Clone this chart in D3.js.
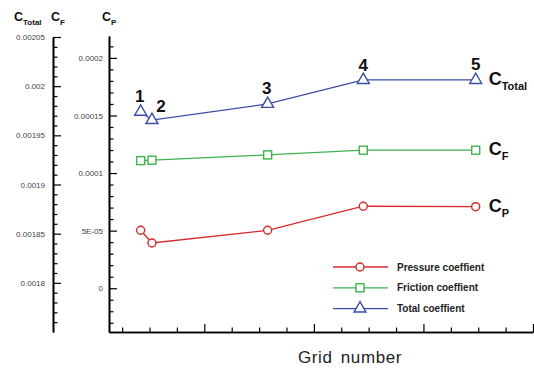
<!doctype html>
<html lang="en">
<head>
<meta charset="UTF-8" />
<title>Drag coefficients vs grid number</title>
<script src="https://d3js.org/d3.v7.min.js"></script>
<style>
  html,body{margin:0;padding:0;background:#fff;}
  svg{display:block;font-family:"Liberation Sans",Arial,Helvetica,sans-serif;}
  .tick text{fill:#444;}
</style>
</head>
<body>
<div id="chart"></div>
<script>
/* ---------- data ---------- */
const gridIds   = ["1","2","3","4","5"];
const gridX     = [0.419, 0.522, 1.578, 2.451, 3.477];
const cTotal    = [0.0019740, 0.0019655, 0.0019819, 0.0020063, 0.0020063];
const cF        = [0.0019243, 0.0019247, 0.0019301, 0.0019349, 0.0019349];
const cP        = [0.0000503, 0.0000393, 0.0000503, 0.0000712, 0.0000708];

const leftTicks       = [0.0018, 0.00185, 0.0019, 0.00195, 0.002, 0.00205];
const leftTickLabels  = ["0.0018","0.00185","0.0019","0.00195","0.002","0.00205"];
const rightTicks      = [0, 0.00005, 0.0001, 0.00015, 0.0002];
const rightTickLabels = ["0","5E-05","0.0001","0.00015","0.0002"];
const xMajorTicks     = [1, 2, 3, 4];

const legendNames = ["Pressure coeffient","Friction coeffient","Total coeffient"];

/* ---------- geometry ---------- */
const W=534, H=369;
const leftAxisX=53, rightAxisX=109, xAxisY=332, plotRight=533;

const svg=d3.select('#chart').append('svg').attr('width',W).attr('height',H);

const x  = d3.scaleLinear().domain([0.13,4.0]).range([rightAxisX,plotRight]);
const yL = d3.scaleLinear().domain([0.00175,0.00205]).range([xAxisY,37]);
const yR = d3.scaleLinear().domain([-0.0000380,0.000219]).range([xAxisY,36]);

const RED='#d42a2a', GREEN='#3cb44b', BLUE='#3b4ea6';

function styleAxis(g){
  g.selectAll('path,line').attr('stroke','#000');
  g.select('.domain').attr('stroke-width',1.6);
  g.selectAll('.tick line').attr('stroke-width',1.2);
  g.selectAll('text').style('font-size','8px').attr('fill','#444');
}

/* left axis: C_Total and C_F */
const leftMinor=d3.range(176,205).map(v=>v/100000).filter(v=>!leftTicks.some(t=>Math.abs(t-v)<1e-9));
const gLm=svg.append('g').attr('transform',`translate(${leftAxisX},0)`)
  .call(d3.axisLeft(yL).tickValues(leftMinor).tickSize(-4.5).tickSizeOuter(0).tickFormat(''));
styleAxis(gLm);
const gL=svg.append('g').attr('transform',`translate(${leftAxisX},0)`)
  .call(d3.axisLeft(yL).tickValues(leftTicks).tickSize(-8).tickSizeOuter(0).tickPadding(8)
    .tickFormat((d,i)=>leftTickLabels[i]));
styleAxis(gL);

/* right axis: C_P */
const rightMinor=d3.range(-3,22).map(v=>v/100000).filter(v=>!rightTicks.some(t=>Math.abs(t-v)<1e-9));
const gRm=svg.append('g').attr('transform',`translate(${rightAxisX},0)`)
  .call(d3.axisLeft(yR).tickValues(rightMinor).tickSize(-4.5).tickSizeOuter(0).tickFormat(''));
styleAxis(gRm);
const gR=svg.append('g').attr('transform',`translate(${rightAxisX},0)`)
  .call(d3.axisLeft(yR).tickValues(rightTicks).tickSize(-8).tickSizeOuter(0).tickPadding(6)
    .tickFormat((d,i)=>rightTickLabels[i]));
styleAxis(gR);

/* x axis (unlabelled ticks) */
const xMinor=d3.range(1,16).map(v=>v/4).filter(v=>!xMajorTicks.includes(v));
const gXm=svg.append('g').attr('transform',`translate(0,${xAxisY})`)
  .call(d3.axisBottom(x).tickValues(xMinor).tickSize(-4.5).tickSizeOuter(0).tickFormat(''));
styleAxis(gXm);
const gX=svg.append('g').attr('transform',`translate(0,${xAxisY})`)
  .call(d3.axisBottom(x).tickValues(xMajorTicks).tickSize(-8).tickSizeOuter(0).tickFormat(''));
styleAxis(gX);

svg.append('text').attr('x',350).attr('y',363).attr('text-anchor','middle')
  .style('font-size','17px').style('letter-spacing','0.6px').style('word-spacing','3px')
  .attr('fill','#222').text('Grid number');

/* axis header labels */
function cLabel(px,py,sub,big,small){
  const t=svg.append('text').attr('x',px).attr('y',py).attr('font-weight','bold').attr('fill','#111')
    .style('font-size',big+'px');
  t.append('tspan').text('C');
  t.append('tspan').attr('dy',big*0.3).style('font-size',small+'px').text(sub);
  return t;
}
cLabel(14,21,'Total',12.5,8);
cLabel(51,21,'F',12.5,8);
cLabel(102,21,'P',12.5,8);

/* series */
const series=[
  {name:legendNames[0],vals:cP,y:yR,color:RED,sym:'circle',sub:'P'},
  {name:legendNames[1],vals:cF,y:yL,color:GREEN,sym:'square',sub:'F'},
  {name:legendNames[2],vals:cTotal,y:yL,color:BLUE,sym:'triangle',sub:'Total'}
];

function drawMarker(g,type,cx,cy,color){
  if(type==='circle'){
    g.append('circle').attr('cx',cx).attr('cy',cy).attr('r',4)
      .attr('fill','#fff').attr('stroke',color).attr('stroke-width',1.4);
  }else if(type==='square'){
    g.append('rect').attr('x',cx-4).attr('y',cy-4).attr('width',8).attr('height',8)
      .attr('fill','#fff').attr('stroke',color).attr('stroke-width',1.4);
  }else{
    g.append('path').attr('transform',`translate(${cx},${cy})`)
      .attr('d',d3.symbol(d3.symbolTriangle,62)())
      .attr('fill','#fff').attr('stroke',color).attr('stroke-width',1.4);
  }
}

series.forEach(s=>{
  const g=svg.append('g');
  const line=d3.line().x((d,i)=>x(gridX[i])).y(d=>s.y(d));
  g.append('path').attr('d',line(s.vals)).attr('fill','none')
    .attr('stroke',s.color).attr('stroke-width',1.3);
  s.vals.forEach((v,i)=>drawMarker(g,s.sym,x(gridX[i]),s.y(v),s.color));
  const last=s.vals.length-1;
  const t=svg.append('text').attr('x',x(gridX[last])+13).attr('y',s.y(s.vals[last])+5)
    .attr('font-weight','bold').attr('fill','#111').style('font-size','18px');
  t.append('tspan').text('C');
  t.append('tspan').attr('dy',5).style('font-size','11px').text(s.sub);
});

/* grid point numbers above the total curve */
const numOffsets=[[-1,-10],[9,-8],[-1,-10],[0,-9],[0,-10]];
gridIds.forEach((id,i)=>{
  svg.append('text').attr('x',x(gridX[i])+numOffsets[i][0]).attr('y',yL(cTotal[i])+numOffsets[i][1])
    .attr('text-anchor','middle').attr('font-weight','bold').attr('fill','#111')
    .style('font-size','17px').text(id);
});

/* legend */
const leg=svg.append('g').attr('transform','translate(333,267)');
series.forEach((s,i)=>{
  const yy=i*20.8;
  leg.append('line').attr('x1',0).attr('x2',55).attr('y1',yy).attr('y2',yy)
    .attr('stroke',s.color).attr('stroke-width',1.3);
  drawMarker(leg,s.sym,27,yy,s.color);
  leg.append('text').attr('x',64).attr('y',yy+3.6).attr('font-weight','bold').attr('fill','#222')
    .style('font-size','10px').text(s.name);
});
</script>
</body>
</html>
